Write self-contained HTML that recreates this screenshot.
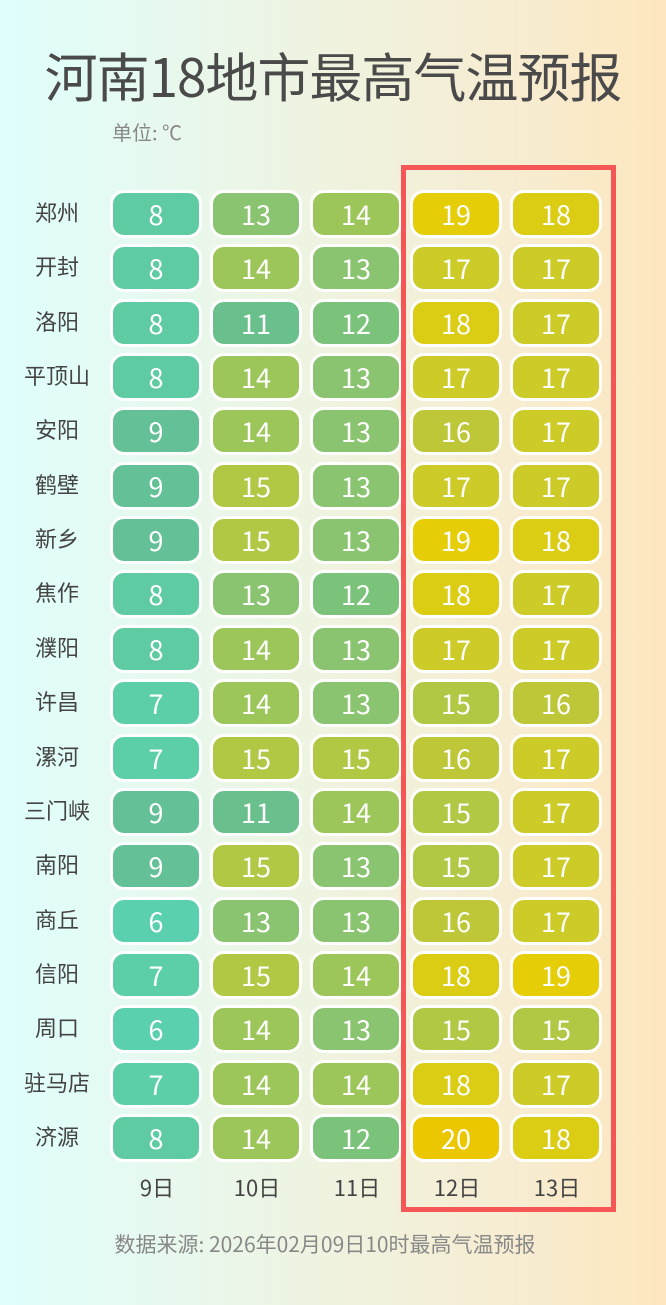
<!DOCTYPE html>
<html><head><meta charset="utf-8"><style>
body{margin:0;width:666px;height:1305px;overflow:hidden;background:linear-gradient(90deg,#dffefd 0%,#eef4e2 45%,#f8ecd0 80%,#fde6bd 100%);font-family:"Noto Sans CJK SC","Liberation Sans",sans-serif;position:relative}
.t{position:absolute;left:0;width:666px;text-align:center;top:37px;font-size:53px;line-height:76px;color:#4a4a4a;letter-spacing:-1px}
.u{position:absolute;left:112px;top:117px;font-size:20px;line-height:30px;color:#888}
.c{position:absolute;width:86px;height:42px;border:3px solid #fff;border-radius:14px;color:#fff;font-size:27px;line-height:42px;text-align:center;box-sizing:content-box}
.l{position:absolute;width:110px;left:2px;text-align:center;font-size:22px;line-height:30px;color:#444}
.d{position:absolute;width:92px;text-align:center;font-size:22px;line-height:30px;color:#444;top:1172px}
.box{position:absolute;left:401px;top:165px;width:205px;height:1037px;border:5px solid #f55656}
.f{position:absolute;left:0;width:650px;text-align:center;top:1229px;font-size:21px;line-height:30px;color:#888}
</style></head><body>
<div class="t">河南18地市最高气温预报</div>
<div class="u">单位: ℃</div>
<div id="g"></div>
<div class="box"></div>
<div class="d" style="left:111px">9日</div><div class="d" style="left:211px">10日</div><div class="d" style="left:311px">11日</div><div class="d" style="left:411px">12日</div><div class="d" style="left:511px">13日</div>
<div class="f">数据来源: 2026年02月09日10时最高气温预报</div>
<script>
var n=["郑州","开封","洛阳","平顶山","安阳","鹤壁","新乡","焦作","濮阳","许昌","漯河","三门峡","南阳","商丘","信阳","周口","驻马店","济源"];
var v=[[8,13,14,19,18],[8,14,13,17,17],[8,11,12,18,17],[8,14,13,17,17],[9,14,13,16,17],[9,15,13,17,17],[9,15,13,19,18],[8,13,12,18,17],[8,14,13,17,17],[7,14,13,15,16],[7,15,15,16,17],[9,11,14,15,17],[9,15,13,15,17],[6,13,13,16,17],[7,15,14,18,19],[6,14,13,15,15],[7,14,14,18,17],[8,14,12,20,18]];
var col={6:"#5bd0ae",7:"#5ccfa8",8:"#5fcba2",9:"#64c197",11:"#6ac08c",12:"#7bc27a",13:"#8bc470",14:"#9dc65a",15:"#b0c843",16:"#bdc738",17:"#cccb28",18:"#dbcc14",19:"#e5cd08",20:"#ebc700"};
var h="";
for(var i=0;i<18;i++){var y=190+i*54.35;
h+='<div class="l" style="top:'+(y+7)+'px">'+n[i]+'</div>';
for(var j=0;j<5;j++){h+='<div class="c" style="left:'+(110+j*100)+'px;top:'+y+'px;background:'+col[v[i][j]]+'">'+v[i][j]+'</div>';}}
document.getElementById("g").innerHTML=h;
</script>
</body></html>
